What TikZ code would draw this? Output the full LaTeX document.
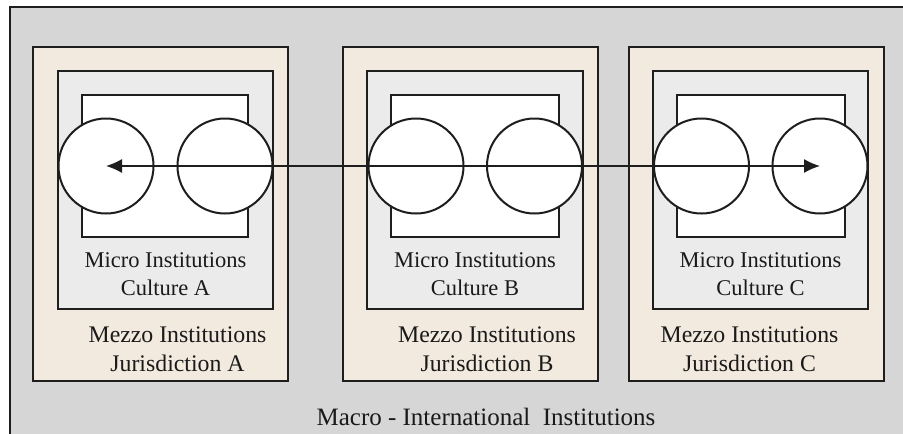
\documentclass[tikz,border=0pt]{standalone}
\usepackage{fontspec}
\setmainfont{Liberation Serif}
\usetikzlibrary{arrows.meta}
\definecolor{macrobg}{HTML}{D6D6D6}
\definecolor{mezzobg}{HTML}{F2E9DF}
\definecolor{microbg}{HTML}{EBEBEB}
\definecolor{edge}{HTML}{1E1E1E}
\definecolor{ink}{HTML}{1A1A1A}
\begin{document}
\begin{tikzpicture}[x=1pt,y=-1pt,
  mezzobox/.style={draw=edge,line width=2pt,fill=mezzobg,anchor=north west,inner sep=0pt,outer sep=0pt},
  microbox/.style={draw=edge,line width=2pt,fill=microbg,anchor=north west,inner sep=0pt,outer sep=0pt},
  corebox/.style={draw=edge,line width=2pt,fill=white,anchor=north west,inner sep=0pt,outer sep=0pt},
  unit/.style={circle,draw=edge,line width=2pt,fill=white,minimum size=95pt,inner sep=0pt,outer sep=0pt},
  microtext/.style={align=center,text=ink,font=\fontsize{22.5}{28}\selectfont,inner sep=0pt},
  mezzotext/.style={align=center,text=ink,font=\fontsize{23.8}{29.4}\selectfont,inner sep=0pt},
  macrotext/.style={text=ink,font=\fontsize{25}{30}\selectfont,inner sep=0pt,anchor=base},
  link/.style={draw=edge,line width=1.4pt,{Latex[length=16pt,width=14pt]}-{Latex[length=16pt,width=14pt]}}
]
\useasboundingbox (0,0) rectangle (903,434);
\fill[macrobg] (10,7) rectangle (903,434);
\draw[edge,line width=1.5pt] (10,434) -- (10,7) -- (903,7);

% Panel A
\node[mezzobox,minimum width=255pt,minimum height=334pt] (mezA) at (33,47) {};
\node[microbox,minimum width=215pt,minimum height=238pt] (micA) at (58,71) {};
\node[corebox,minimum width=166pt,minimum height=142pt] (coreA) at (82,95) {};
\node[unit] (a1) at (106,166) {};
\node[unit] (a2) at (225,166) {};
\node[microtext] (mtA) at (165.5,274.5) {Micro Institutions\\Culture A};
\node[mezzotext] (jtA) at (177.5,349) {Mezzo Institutions\\Jurisdiction A};

% Panel B
\node[mezzobox,minimum width=255pt,minimum height=334pt] (mezB) at (343,47) {};
\node[microbox,minimum width=216pt,minimum height=238pt] (micB) at (367,71) {};
\node[corebox,minimum width=168pt,minimum height=142pt] (coreB) at (391,95) {};
\node[unit] (b1) at (416,166) {};
\node[unit] (b2) at (534.5,166) {};
\node[microtext] (mtB) at (475,274.5) {Micro Institutions\\Culture B};
\node[mezzotext] (jtB) at (487,349) {Mezzo Institutions\\Jurisdiction B};

% Panel C
\node[mezzobox,minimum width=255pt,minimum height=334pt] (mezC) at (629,47) {};
\node[microbox,minimum width=215pt,minimum height=238pt] (micC) at (653,71) {};
\node[corebox,minimum width=168pt,minimum height=142pt] (coreC) at (677,95) {};
\node[unit] (c1) at (701.5,166) {};
\node[unit] (c2) at (820,166) {};
\node[microtext] (mtC) at (760.5,274.5) {Micro Institutions\\Culture C};
\node[mezzotext] (jtC) at (749.5,349) {Mezzo Institutions\\Jurisdiction C};

% Connector
\draw[link] (a1.center) -- (c2.center);

% Macro label
\node[macrotext] (macro) at (486,425.7) {Macro - International\ \ Institutions};
\end{tikzpicture}
\end{document}
